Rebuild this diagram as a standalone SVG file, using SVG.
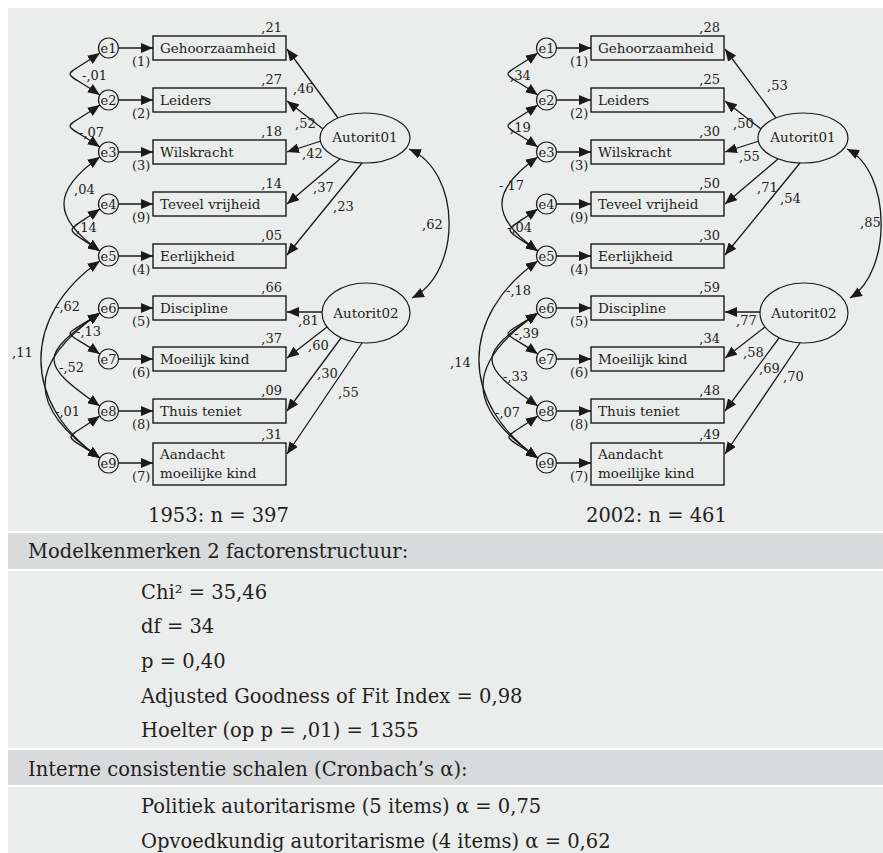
<svg xmlns="http://www.w3.org/2000/svg" width="883" height="853" viewBox="0 0 883 853">
<defs>
<marker id="ah" markerUnits="userSpaceOnUse" viewBox="0 0 12 10" markerWidth="12" markerHeight="10" refX="12" refY="5" orient="auto-start-reverse"><path d="M0,0 L12,5 L0,10 z" fill="#1a1a1a"/></marker>
</defs>
<style>
text{font-family:"DejaVu Serif","Liberation Serif",serif;fill:#231f20}
.lbl{font-size:13.5px}
.num{font-size:13px}
.r2{font-size:13px;text-anchor:end}
.e{font-size:13px;text-anchor:middle}
.mid{text-anchor:middle}
.box{fill:none;stroke:#1a1a1a;stroke-width:1.4}
.circ{fill:none;stroke:#1a1a1a;stroke-width:1.2}
.ln{fill:none;stroke:#1a1a1a;stroke-width:1.3}
.arr{marker-end:url(#ah)}
.dbl{marker-start:url(#ah);marker-end:url(#ah)}
.bt{font-size:19.5px}
.bg{fill:#ebecec}
.band{fill:#d9dadb}
</style>
<rect x="0" y="0" width="883" height="853" fill="#fff"/>
<rect class="bg" x="8" y="8" width="875" height="523"/>
<rect class="band" x="8" y="533" width="875" height="36"/>
<rect class="bg" x="8" y="571" width="875" height="177"/>
<rect class="band" x="8" y="750" width="875" height="35"/>
<rect class="bg" x="8" y="787" width="875" height="66"/>

<!-- LEFT DIAGRAM (1953) -->
<g id="left">
<g id="L-connectors">
<path class="ln arr" d="M118.5,48 H153"/>
<path class="ln arr" d="M118.5,100 H153"/>
<path class="ln arr" d="M118.5,152 H153"/>
<path class="ln arr" d="M118.5,204 H153"/>
<path class="ln arr" d="M118.5,256 H153"/>
<path class="ln arr" d="M118.5,308 H153"/>
<path class="ln arr" d="M118.5,359 H153"/>
<path class="ln arr" d="M118.5,411 H153"/>
<path class="ln arr" d="M118.5,463 H153"/>
<path class="ln dbl" d="M99.8,53 C60,80.8 60,67.2 99.8,95"/>
<path class="ln dbl" d="M99.8,105 C60,132.8 60,119.2 99.8,147"/>
<path class="ln dbl" d="M99.8,157 C52,190.5 52,217.5 99.8,251"/>
<path class="ln dbl" d="M99.8,209 C62.7,235 62.7,225 99.8,251"/>
<path class="ln dbl" d="M99.8,261 C21.3,316 21.3,403 99.8,458"/>
<path class="ln dbl" d="M99.8,313 C60,340.8 60,326.2 99.8,354"/>
<path class="ln dbl" d="M99.8,313 C38.7,355.8 38.7,363.2 99.8,406"/>
<path class="ln dbl" d="M99.8,313 C26.7,364 26.7,407 99.8,458"/>
<path class="ln dbl" d="M99.8,416 C61.3,443 61.3,431 99.8,458"/>
<path class="ln arr" d="M338,118 L287,49"/>
<path class="ln arr" d="M323,129 L287,101"/>
<path class="ln arr" d="M321,141 L287,152"/>
<path class="ln arr" d="M340,159 L287,204"/>
<path class="ln arr" d="M362,163 L287,255"/>
<path class="ln arr" d="M322,312 L287,312"/>
<path class="ln arr" d="M327,327 L287,358"/>
<path class="ln arr" d="M341,338 L287,411"/>
<path class="ln arr" d="M362,343 L287,454"/>
<path class="ln dbl" d="M409,149 C462,172 462,272 412,298"/>
<text class="num" x="82" y="80">-,01</text>
<text class="num" x="79" y="137">-,07</text>
<text class="num" x="74" y="194">,04</text>
<text class="num" x="76" y="232">,14</text>
<text class="num" x="12" y="357">,11</text>
<text class="num" x="55" y="311">-,62</text>
<text class="num" x="76" y="336">-,13</text>
<text class="num" x="59" y="372">-,52</text>
<text class="num" x="55" y="416">-,01</text>
<text class="num" x="293" y="93">,46</text>
<text class="num" x="295" y="128">,52</text>
<text class="num" x="302" y="158">,42</text>
<text class="num" x="313" y="192">,37</text>
<text class="num" x="333" y="211">,23</text>
<text class="num" x="422" y="229">,62</text>
<text class="num" x="298" y="325">,81</text>
<text class="num" x="308" y="350">,60</text>
<text class="num" x="317" y="378">,30</text>
<text class="num" x="338" y="397">,55</text>
</g>
<g id="L-e1"><circle class="circ" cx="108.5" cy="48" r="10"/><text class="e" x="108.5" y="52.5">e1</text></g>
<g id="L-e2"><circle class="circ" cx="108.5" cy="100" r="10"/><text class="e" x="108.5" y="104.5">e2</text></g>
<g id="L-e3"><circle class="circ" cx="108.5" cy="152" r="10"/><text class="e" x="108.5" y="156.5">e3</text></g>
<g id="L-e4"><circle class="circ" cx="108.5" cy="204" r="10"/><text class="e" x="108.5" y="208.5">e4</text></g>
<g id="L-e5"><circle class="circ" cx="108.5" cy="256" r="10"/><text class="e" x="108.5" y="260.5">e5</text></g>
<g id="L-e6"><circle class="circ" cx="108.5" cy="308" r="10"/><text class="e" x="108.5" y="312.5">e6</text></g>
<g id="L-e7"><circle class="circ" cx="108.5" cy="359" r="10"/><text class="e" x="108.5" y="363.5">e7</text></g>
<g id="L-e8"><circle class="circ" cx="108.5" cy="411" r="10"/><text class="e" x="108.5" y="415.5">e8</text></g>
<g id="L-e9"><circle class="circ" cx="108.5" cy="463" r="10"/><text class="e" x="108.5" y="467.5">e9</text></g>
<g id="L-gehoorzaamheid"><rect class="box" x="153" y="36" width="133" height="24"/><text class="lbl" x="160" y="53">Gehoorzaamheid</text><text class="r2" x="282" y="32">,21</text><text class="num" x="132" y="66">(1)</text></g>
<g id="L-leiders"><rect class="box" x="153" y="88" width="133" height="24"/><text class="lbl" x="160" y="105">Leiders</text><text class="r2" x="282" y="84">,27</text><text class="num" x="132" y="118">(2)</text></g>
<g id="L-wilskracht"><rect class="box" x="153" y="140" width="133" height="24"/><text class="lbl" x="160" y="157">Wilskracht</text><text class="r2" x="282" y="136">,18</text><text class="num" x="132" y="170">(3)</text></g>
<g id="L-teveel"><rect class="box" x="153" y="192" width="133" height="24"/><text class="lbl" x="160" y="209">Teveel vrijheid</text><text class="r2" x="282" y="188">,14</text><text class="num" x="132" y="222">(9)</text></g>
<g id="L-eerlijkheid"><rect class="box" x="153" y="244" width="133" height="24"/><text class="lbl" x="160" y="261">Eerlijkheid</text><text class="r2" x="282" y="240">,05</text><text class="num" x="132" y="274">(4)</text></g>
<g id="L-discipline"><rect class="box" x="153" y="296" width="133" height="24"/><text class="lbl" x="160" y="313">Discipline</text><text class="r2" x="282" y="292">,66</text><text class="num" x="132" y="326">(5)</text></g>
<g id="L-moeilijk"><rect class="box" x="153" y="347" width="133" height="24"/><text class="lbl" x="160" y="364">Moeilijk kind</text><text class="r2" x="282" y="343">,37</text><text class="num" x="132" y="377">(6)</text></g>
<g id="L-thuis"><rect class="box" x="153" y="399" width="133" height="24"/><text class="lbl" x="160" y="416">Thuis teniet</text><text class="r2" x="282" y="395">,09</text><text class="num" x="132" y="429">(8)</text></g>
<g id="L-aandacht"><rect class="box" x="153" y="443" width="133" height="42"/><text class="lbl" x="160" y="459">Aandacht</text><text class="lbl" x="160" y="478">moeilijke kind</text><text class="r2" x="282" y="439">,31</text><text class="num" x="132" y="481">(7)</text></g>
<g id="L-autorit01"><ellipse class="circ" cx="365" cy="138" rx="45" ry="25"/><text class="lbl mid" x="365" y="142">Autorit01</text></g>
<g id="L-autorit02"><ellipse class="circ" cx="366" cy="313" rx="44" ry="30"/><text class="lbl mid" x="366" y="318">Autorit02</text></g>
</g>

<!-- RIGHT DIAGRAM (2002) -->
<g id="right" transform="translate(438,0)">
<g id="R-connectors">
<path class="ln arr" d="M118.5,48 H153"/>
<path class="ln arr" d="M118.5,100 H153"/>
<path class="ln arr" d="M118.5,152 H153"/>
<path class="ln arr" d="M118.5,204 H153"/>
<path class="ln arr" d="M118.5,256 H153"/>
<path class="ln arr" d="M118.5,308 H153"/>
<path class="ln arr" d="M118.5,359 H153"/>
<path class="ln arr" d="M118.5,411 H153"/>
<path class="ln arr" d="M118.5,463 H153"/>
<path class="ln dbl" d="M99.8,53 C60,80.8 60,67.2 99.8,95"/>
<path class="ln dbl" d="M99.8,105 C60,132.8 60,119.2 99.8,147"/>
<path class="ln dbl" d="M99.8,157 C52,190.5 52,217.5 99.8,251"/>
<path class="ln dbl" d="M99.8,209 C62.7,235 62.7,225 99.8,251"/>
<path class="ln dbl" d="M99.8,261 C21.3,316 21.3,403 99.8,458"/>
<path class="ln dbl" d="M99.8,313 C60,340.8 60,326.2 99.8,354"/>
<path class="ln dbl" d="M99.8,313 C38.7,355.8 38.7,363.2 99.8,406"/>
<path class="ln dbl" d="M99.8,313 C26.7,364 26.7,407 99.8,458"/>
<path class="ln dbl" d="M99.8,416 C61.3,443 61.3,431 99.8,458"/>
<path class="ln arr" d="M338,118 L287,49"/>
<path class="ln arr" d="M323,129 L287,101"/>
<path class="ln arr" d="M321,141 L287,152"/>
<path class="ln arr" d="M340,159 L287,204"/>
<path class="ln arr" d="M362,163 L287,255"/>
<path class="ln arr" d="M322,312 L287,312"/>
<path class="ln arr" d="M327,327 L287,358"/>
<path class="ln arr" d="M341,338 L287,411"/>
<path class="ln arr" d="M362,343 L287,454"/>
<path class="ln dbl" d="M409,149 C454,172 454,272 412,298"/>
<text class="num" x="72" y="80">,34</text>
<text class="num" x="72" y="132">,19</text>
<text class="num" x="61" y="190">-,17</text>
<text class="num" x="69" y="232">-,04</text>
<text class="num" x="12" y="367">,14</text>
<text class="num" x="68" y="295">-,18</text>
<text class="num" x="76" y="338">-,39</text>
<text class="num" x="65" y="381">-,33</text>
<text class="num" x="57" y="417">-,07</text>
<text class="num" x="329" y="90">,53</text>
<text class="num" x="295" y="128">,50</text>
<text class="num" x="301" y="161">,55</text>
<text class="num" x="319" y="192">,71</text>
<text class="num" x="342" y="203">,54</text>
<text class="num" x="422" y="227">,85</text>
<text class="num" x="298" y="325">,77</text>
<text class="num" x="305" y="357">,58</text>
<text class="num" x="321" y="373">,69</text>
<text class="num" x="345" y="381">,70</text>
</g>
<g id="R-e1"><circle class="circ" cx="108.5" cy="48" r="10"/><text class="e" x="108.5" y="52.5">e1</text></g>
<g id="R-e2"><circle class="circ" cx="108.5" cy="100" r="10"/><text class="e" x="108.5" y="104.5">e2</text></g>
<g id="R-e3"><circle class="circ" cx="108.5" cy="152" r="10"/><text class="e" x="108.5" y="156.5">e3</text></g>
<g id="R-e4"><circle class="circ" cx="108.5" cy="204" r="10"/><text class="e" x="108.5" y="208.5">e4</text></g>
<g id="R-e5"><circle class="circ" cx="108.5" cy="256" r="10"/><text class="e" x="108.5" y="260.5">e5</text></g>
<g id="R-e6"><circle class="circ" cx="108.5" cy="308" r="10"/><text class="e" x="108.5" y="312.5">e6</text></g>
<g id="R-e7"><circle class="circ" cx="108.5" cy="359" r="10"/><text class="e" x="108.5" y="363.5">e7</text></g>
<g id="R-e8"><circle class="circ" cx="108.5" cy="411" r="10"/><text class="e" x="108.5" y="415.5">e8</text></g>
<g id="R-e9"><circle class="circ" cx="108.5" cy="463" r="10"/><text class="e" x="108.5" y="467.5">e9</text></g>
<g id="R-gehoorzaamheid"><rect class="box" x="153" y="36" width="133" height="24"/><text class="lbl" x="160" y="53">Gehoorzaamheid</text><text class="r2" x="282" y="32">,28</text><text class="num" x="132" y="66">(1)</text></g>
<g id="R-leiders"><rect class="box" x="153" y="88" width="133" height="24"/><text class="lbl" x="160" y="105">Leiders</text><text class="r2" x="282" y="84">,25</text><text class="num" x="132" y="118">(2)</text></g>
<g id="R-wilskracht"><rect class="box" x="153" y="140" width="133" height="24"/><text class="lbl" x="160" y="157">Wilskracht</text><text class="r2" x="282" y="136">,30</text><text class="num" x="132" y="170">(3)</text></g>
<g id="R-teveel"><rect class="box" x="153" y="192" width="133" height="24"/><text class="lbl" x="160" y="209">Teveel vrijheid</text><text class="r2" x="282" y="188">,50</text><text class="num" x="132" y="222">(9)</text></g>
<g id="R-eerlijkheid"><rect class="box" x="153" y="244" width="133" height="24"/><text class="lbl" x="160" y="261">Eerlijkheid</text><text class="r2" x="282" y="240">,30</text><text class="num" x="132" y="274">(4)</text></g>
<g id="R-discipline"><rect class="box" x="153" y="296" width="133" height="24"/><text class="lbl" x="160" y="313">Discipline</text><text class="r2" x="282" y="292">,59</text><text class="num" x="132" y="326">(5)</text></g>
<g id="R-moeilijk"><rect class="box" x="153" y="347" width="133" height="24"/><text class="lbl" x="160" y="364">Moeilijk kind</text><text class="r2" x="282" y="343">,34</text><text class="num" x="132" y="377">(6)</text></g>
<g id="R-thuis"><rect class="box" x="153" y="399" width="133" height="24"/><text class="lbl" x="160" y="416">Thuis teniet</text><text class="r2" x="282" y="395">,48</text><text class="num" x="132" y="429">(8)</text></g>
<g id="R-aandacht"><rect class="box" x="153" y="443" width="133" height="42"/><text class="lbl" x="160" y="459">Aandacht</text><text class="lbl" x="160" y="478">moeilijke kind</text><text class="r2" x="282" y="439">,49</text><text class="num" x="132" y="481">(7)</text></g>
<g id="R-autorit01"><ellipse class="circ" cx="365" cy="138" rx="45" ry="25"/><text class="lbl mid" x="365" y="142">Autorit01</text></g>
<g id="R-autorit02"><ellipse class="circ" cx="366" cy="313" rx="44" ry="30"/><text class="lbl mid" x="366" y="318">Autorit02</text></g>
</g>

<!-- TEXT SECTION -->
<g id="stats">
<text class="bt" x="148" y="522">1953: n = 397</text>
<text class="bt" x="586" y="522">2002: n = 461</text>
<text class="bt" x="28" y="558">Modelkenmerken 2 factorenstructuur:</text>
<text class="bt" x="141" y="599">Chi² = 35,46</text>
<text class="bt" x="141" y="633">df = 34</text>
<text class="bt" x="141" y="668">p = 0,40</text>
<text class="bt" x="141" y="703">Adjusted Goodness of Fit Index = 0,98</text>
<text class="bt" x="141" y="737">Hoelter (op p = ,01) = 1355</text>
<text class="bt" x="28" y="776">Interne consistentie schalen (Cronbach’s α):</text>
<text class="bt" x="141" y="813">Politiek autoritarisme (5 items) α = 0,75</text>
<text class="bt" x="141" y="848">Opvoedkundig autoritarisme (4 items) α = 0,62</text>
</g>
</svg>
